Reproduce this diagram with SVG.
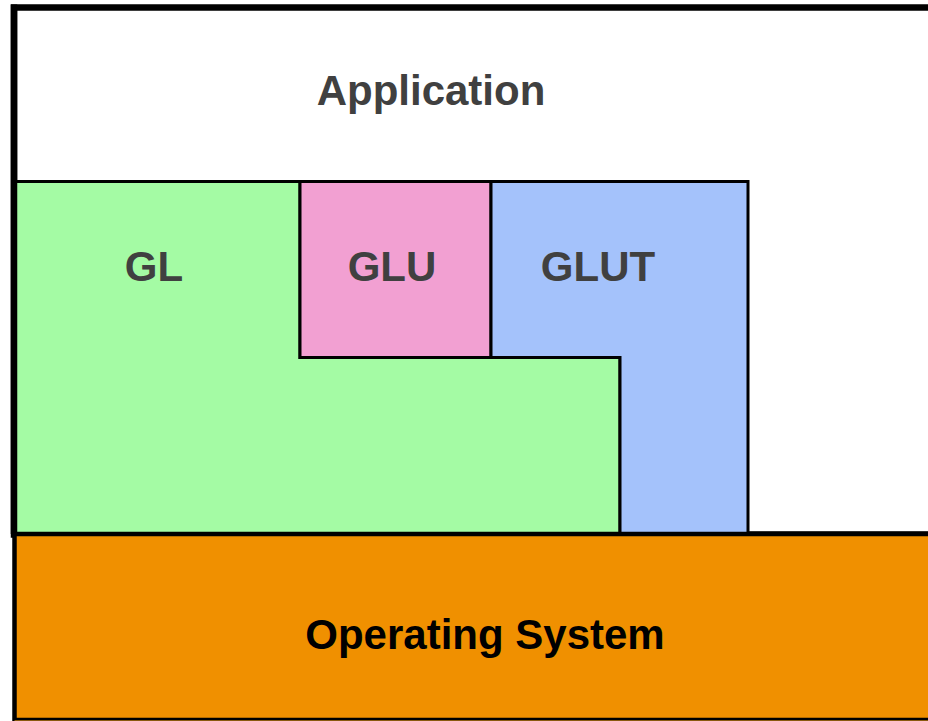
<svg xmlns="http://www.w3.org/2000/svg" width="928" height="721" viewBox="0 0 928 721">
  <style>
    .lbl { font-family: "Liberation Sans", Arial, sans-serif; font-weight: bold; font-size: 42px; fill: #404040; text-anchor: middle; }
    .os { fill: #000; }
    .edge { stroke: #000; stroke-width: 3; stroke-linejoin: miter; }
  </style>
  <rect width="928" height="721" fill="#fff"/>

  <g id="application">
    <rect x="14" y="7.5" width="930" height="527" fill="#fff" stroke="#000" stroke-width="6.5"/>
    <text class="lbl" x="431" y="105">Application</text>
  </g>

  <g id="gl">
    <polygon class="edge" points="14,181.5 300,181.5 300,357.5 620,357.5 620,534 14,534" fill="#a4fba4"/>
    <text class="lbl" x="154" y="281">GL</text>
  </g>

  <g id="glu">
    <rect class="edge" x="300" y="181.5" width="191" height="176" fill="#f2a0d2"/>
    <text class="lbl" x="392" y="281">GLU</text>
  </g>

  <g id="glut">
    <polygon class="edge" points="491,181.5 748,181.5 748,534 620,534 620,357.5 491,357.5" fill="#a4c2fb"/>
    <text class="lbl" x="598" y="281">GLUT</text>
  </g>

  <g id="os">
    <rect x="14.5" y="534" width="930" height="186" fill="#f09000" stroke="#000" stroke-width="4.5"/>
    <line x1="14.5" y1="720.5" x2="928" y2="720.5" stroke="#8a5a10" stroke-width="1"/>
    <text class="lbl os" x="485" y="649">Operating System</text>
  </g>

  <!-- left border of the application frame, drawn over the layers -->
  <line x1="14" y1="4.5" x2="14" y2="534" stroke="#000" stroke-width="6.5"/>
</svg>
